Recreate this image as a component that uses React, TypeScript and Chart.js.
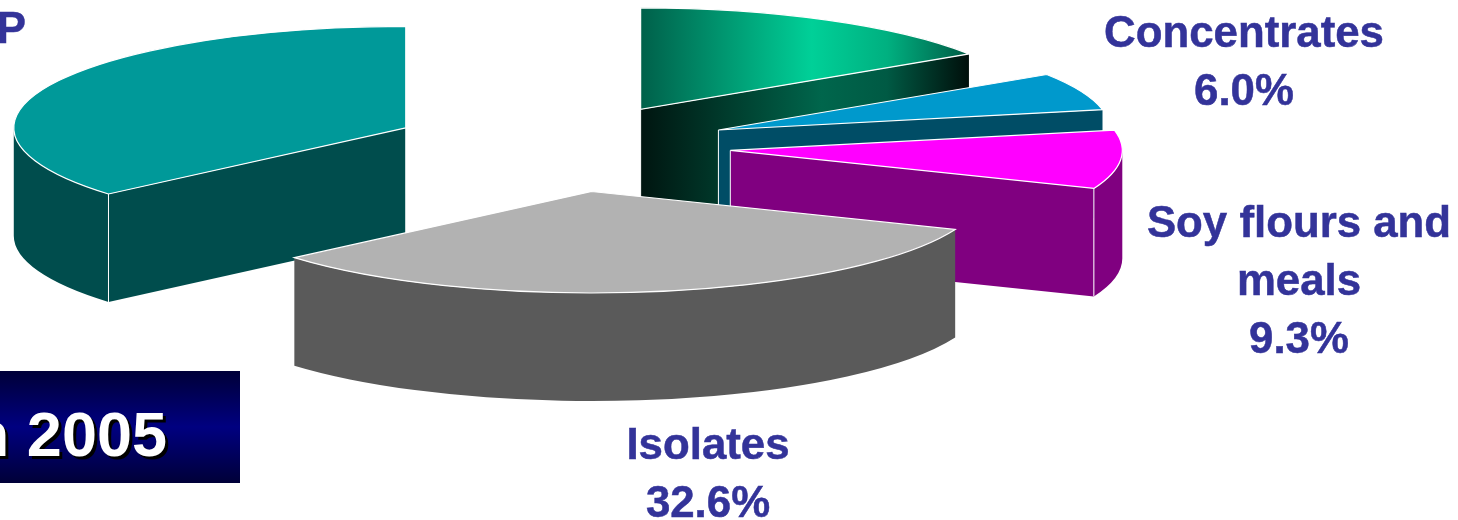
import React, { useEffect, useRef } from "react";
import { Chart, registerables } from "chart.js";

Chart.register(...registerables);

const categories = ["Unlabelled", "Concentrates", "Soy flours and meals", "Isolates", "P"];
const shares = [15.8, 6.0, 9.3, 32.6, 36.3];
const topColors = ["#00d098", "#0099cc", "#ff00ff", "#b2b2b2", "#009999"];
const sideColors = ["#00664c", "#004d66", "#800080", "#5a5a5a", "#004d4d"];
const explode = [163, 168, 168, 176, 173];

const labelLines = [["Concentrates", "6.0%"], ["Soy flours and", "meals", "9.3%"], ["Isolates", "32.6%"], ["P"]];
const boxText = "n 2005";

const W = 1458;
const H = 520;
const SQUASH = 0.259;
const DEPTH = 108;
const RADIUS = 392;
const LABEL_FONT = 'bold 43.8px "Liberation Sans", Arial, sans-serif';

const pie3d = {
  id: "pie3d",
  beforeDatasetsDraw(chart: any) {
    const ctx: CanvasRenderingContext2D = chart.ctx;
    const arcs: any[] = chart.getDatasetMeta(0).data;
    const order = arcs
      .map((a, i) => ({ a, i }))
      .sort((p, q) => Math.sin((p.a.startAngle + p.a.endAngle) / 2) - Math.sin((q.a.startAngle + q.a.endAngle) / 2));

    for (const { a, i } of order) {
      const { startAngle: s, endAngle: e, outerRadius: R, x: cx, y: cy } = a;
      const mid = (s + e) / 2;
      const ax = cx + Math.cos(mid) * explode[i];
      const ay = cy + Math.sin(mid) * explode[i] * SQUASH;
      const ry = R * SQUASH;
      const px = (t: number) => ax + R * Math.cos(t);
      const py = (t: number) => ay + ry * Math.sin(t);

      let side: any = sideColors[i];
      if (i === 0) {
        const g = ctx.createLinearGradient(ax, 0, px(e), 0);
        g.addColorStop(0, "#001510");
        g.addColorStop(0.55, "#00664c");
        g.addColorStop(0.75, "#005a44");
        g.addColorStop(1, "#000f0b");
        side = g;
      }

      const startFace = Math.cos(s) < -1e-6;
      const endFace = Math.cos(e) > 1e-6;
      ctx.save();
      ctx.fillStyle = side;
      if (startFace) {
        ctx.beginPath();
        ctx.moveTo(ax, ay);
        ctx.lineTo(px(s), py(s));
        ctx.lineTo(px(s), py(s) + DEPTH);
        ctx.lineTo(ax, ay + DEPTH);
        ctx.closePath();
        ctx.fill();
      }
      if (endFace) {
        ctx.beginPath();
        ctx.moveTo(ax, ay);
        ctx.lineTo(px(e), py(e));
        ctx.lineTo(px(e), py(e) + DEPTH);
        ctx.lineTo(ax, ay + DEPTH);
        ctx.closePath();
        ctx.fill();
      }
      // outer rim, front half only (canvas angles 0..PI, also modulo a turn)
      const norm = (t: number) => ((t % (2 * Math.PI)) + 2 * Math.PI) % (2 * Math.PI);
      const s0 = norm(s);
      const span = e - s;
      const r1 = s0 < Math.PI ? s0 : s0 >= Math.PI && s0 + span > 2 * Math.PI ? 0 : Infinity;
      const base = s0 < Math.PI ? s0 + span : s0 + span - 2 * Math.PI;
      const r2 = Math.min(base, Math.PI);
      if (r1 !== Infinity && r2 > r1) {
        ctx.beginPath();
        ctx.ellipse(ax, ay, R, ry, 0, r1, r2);
        ctx.ellipse(ax, ay + DEPTH, R, ry, 0, r2, r1, true);
        ctx.closePath();
        ctx.fill();
      }
      // white edges between the visible side faces
      ctx.strokeStyle = "#ffffff";
      ctx.lineWidth = 1;
      const vertical = (x: number, y: number) => {
        ctx.beginPath();
        ctx.moveTo(x, y);
        ctx.lineTo(x, y + DEPTH);
        ctx.stroke();
      };
      if (startFace || endFace) vertical(ax, ay);
      if (startFace && Math.sin(s) > 0) vertical(px(s), py(s));
      if (endFace && Math.sin(e) > 0) vertical(px(e), py(e));
      ctx.restore();

      // top face: the library's own arc, squashed and moved out radially
      ctx.save();
      ctx.translate(ax, ay);
      ctx.scale(1, SQUASH);
      ctx.translate(-cx, -cy);
      a.draw(ctx);
      ctx.restore();

      ctx.save();
      ctx.beginPath();
      ctx.moveTo(ax, ay);
      ctx.ellipse(ax, ay, R, ry, 0, s, e);
      ctx.closePath();
      ctx.strokeStyle = "#ffffff";
      ctx.lineWidth = 1.2;
      ctx.stroke();
      ctx.restore();
    }
    return false;
  },
  afterDraw(chart: any) {
    const ctx: CanvasRenderingContext2D = chart.ctx;
    ctx.save();
    ctx.fillStyle = "#333399";
    ctx.strokeStyle = "#333399";
    ctx.lineWidth = 0.5;
    ctx.font = LABEL_FONT;
    ctx.textBaseline = "alphabetic";
    const place = [
      { x: 1244, y: 47, align: "center" },
      { x: 1299, y: 237, align: "center" },
      { x: 708, y: 459, align: "center" },
      { x: 26, y: 43, align: "right" },
    ];
    labelLines.forEach((lines, i) => {
      ctx.textAlign = place[i].align as CanvasTextAlign;
      lines.forEach((t, j) => {
        ctx.fillText(t, place[i].x, place[i].y + j * 58);
        ctx.strokeText(t, place[i].x, place[i].y + j * 58);
      });
    });

    const g = ctx.createLinearGradient(0, 371, 0, 483);
    g.addColorStop(0, "#000038");
    g.addColorStop(0.5, "#000080");
    g.addColorStop(1, "#000038");
    ctx.fillStyle = g;
    ctx.fillRect(0, 371, 240, 112);
    ctx.font = 'bold 63px "Liberation Sans", Arial, sans-serif';
    ctx.textAlign = "right";
    ctx.fillStyle = "#000000";
    ctx.fillText(boxText, 170, 459);
    ctx.fillStyle = "#ffffff";
    ctx.fillText(boxText, 167, 456);
    ctx.restore();
  },
};

export default function App() {
  const ref = useRef<HTMLCanvasElement>(null);
  useEffect(() => {
    document.body.style.margin = "0";
    const canvas = ref.current!;
    const ctx = canvas.getContext("2d")!;
    // the top face is painted inside a translated context, so the gradient runs in the arc's own frame
    const shift = 78;
    const green = ctx.createLinearGradient(641 - shift, 0, 970 - shift, 0);
    green.addColorStop(0, "#00604a");
    green.addColorStop(0.52, topColors[0]);
    green.addColorStop(0.75, "#00b080");
    green.addColorStop(1, "#005a44");
    const chart = new Chart(canvas, {
      type: "pie",
      data: {
        labels: categories,
        datasets: [
          {
            data: shares,
            backgroundColor: [green, ...topColors.slice(1)],
            borderWidth: 0,
          },
        ],
      },
      options: {
        animation: false,
        responsive: false,
        radius: RADIUS,
        layout: { padding: { right: W - 2 * 563, bottom: H - 2 * 146.5 } },
        plugins: { legend: { display: false }, tooltip: { enabled: false } },
      } as any,
      plugins: [pie3d as any],
    });
    return () => chart.destroy();
  }, []);
  return (
    <div style={{ position: "fixed", left: 0, top: 0, width: W, height: H, background: "#ffffff", overflow: "hidden" }}>
      <canvas ref={ref} width={W} height={H} style={{ display: "block" }} />
    </div>
  );
}
